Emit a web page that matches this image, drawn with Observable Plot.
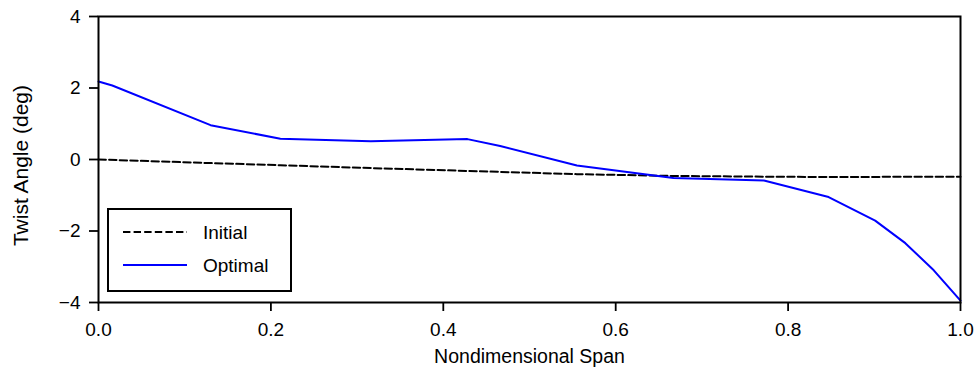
<!DOCTYPE html>
<html>
<head>
<meta charset="utf-8">
<script src="https://cdn.jsdelivr.net/npm/d3@7"></script>
<script src="https://cdn.jsdelivr.net/npm/@observablehq/plot@0.6"></script>
<style>
  html, body { margin: 0; padding: 0; background: #fff; }
  #wrap { position: relative; width: 979px; height: 369px; font-family: "Liberation Sans", sans-serif; }
  #legend { position: absolute; left: 107px; top: 208px; width: 181px; height: 80px; border: 2px solid #000; background: #fff; }
  #legend .line { position: absolute; left: 14px; }
  #legend .lab { position: absolute; left: 94px; font-size: 19px; line-height: 1; color: #000; }
</style>
</head>
<body>
<div id="wrap"></div>
<script>
// Data
const spanX = [0.0, 0.016, 0.13, 0.211, 0.316, 0.428, 0.466, 0.555, 0.667, 0.772, 0.847, 0.901, 0.936, 0.969, 1.0];
const optimal = [2.18, 2.07, 0.96, 0.58, 0.51, 0.57, 0.38, -0.17, -0.52, -0.59, -1.05, -1.71, -2.34, -3.1, -3.95];
const initialX = [0.0, 0.13, 0.211, 0.316, 0.428, 0.555, 0.667, 0.772, 0.847, 1.0];
const initial = [0.0, -0.1, -0.16, -0.24, -0.32, -0.41, -0.46, -0.48, -0.49, -0.48];
const xTicks = [0, 0.2, 0.4, 0.6, 0.8, 1.0];
const yTicks = [-4, -2, 0, 2, 4];
const seriesNames = ["Initial", "Optimal"];
const xLabel = "Nondimensional Span";
const yLabel = "Twist Angle (deg)";

const optData = spanX.map((x, i) => ({x, y: optimal[i]}));
const iniData = initialX.map((x, i) => ({x, y: initial[i]}));
const fmtY = d => d < 0 ? "\u2212" + Math.abs(d) : String(d);
const fmtX = d => d.toFixed(1);

const chart = Plot.plot({
  width: 979,
  height: 369,
  marginLeft: 98,
  marginRight: 19,
  marginTop: 16,
  marginBottom: 67,
  style: {fontFamily: "Liberation Sans, sans-serif", fontSize: "19px", color: "#000", background: "#fff"},
  x: {domain: [0, 1], label: null},
  y: {domain: [-4, 4], label: null},
  marks: [
    Plot.axisX({ticks: xTicks, tickFormat: fmtX, tickSize: 9, tickPadding: 11, fontSize: 19, label: null, strokeWidth: 1.8}),
    Plot.axisY({ticks: yTicks, tickFormat: fmtY, tickSize: 9, tickPadding: 9, fontSize: 19, label: null, strokeWidth: 1.8}),
    Plot.line(iniData, {x: "x", y: "y", stroke: "#000", strokeWidth: 2, strokeDasharray: "7.4,3.2"}),
    Plot.line(optData, {x: "x", y: "y", stroke: "#0000ff", strokeWidth: 2}),
    Plot.frame({stroke: "#000", strokeWidth: 2}),
    Plot.text([xLabel], {frameAnchor: "bottom", lineAnchor: "bottom", dy: 60, text: d => d, fontSize: 19.5, fill: "#000"}),
    Plot.text([yLabel], {frameAnchor: "left", textAnchor: "middle", lineAnchor: "middle", dx: -77, dy: 6, rotate: -90, text: d => d, fontSize: 21, fill: "#000"})
  ]
});
const wrap = document.getElementById("wrap");
wrap.appendChild(chart);

// Legend overlay inside the plot area
const legend = document.createElement("div");
legend.id = "legend";
const styles = [
  {name: seriesNames[0], stroke: "#000", dash: "7.4,3.2"},
  {name: seriesNames[1], stroke: "#0000ff", dash: null}
];
styles.forEach((s, i) => {
  const cy = 21.5 + i * 33.5;
  const line = document.createElement("div");
  line.className = "line";
  line.style.top = (cy - 5) + "px";
  line.innerHTML = `<svg width="64" height="10" style="display:block"><line x1="0" x2="64" y1="5" y2="5" stroke="${s.stroke}" stroke-width="2" ${s.dash ? `stroke-dasharray="${s.dash}"` : ""}/></svg>`;
  legend.appendChild(line);
  const lab = document.createElement("div");
  lab.className = "lab";
  lab.style.top = (cy - 9) + "px";
  lab.textContent = s.name;
  legend.appendChild(lab);
});
wrap.appendChild(legend);
</script>
</body>
</html>
